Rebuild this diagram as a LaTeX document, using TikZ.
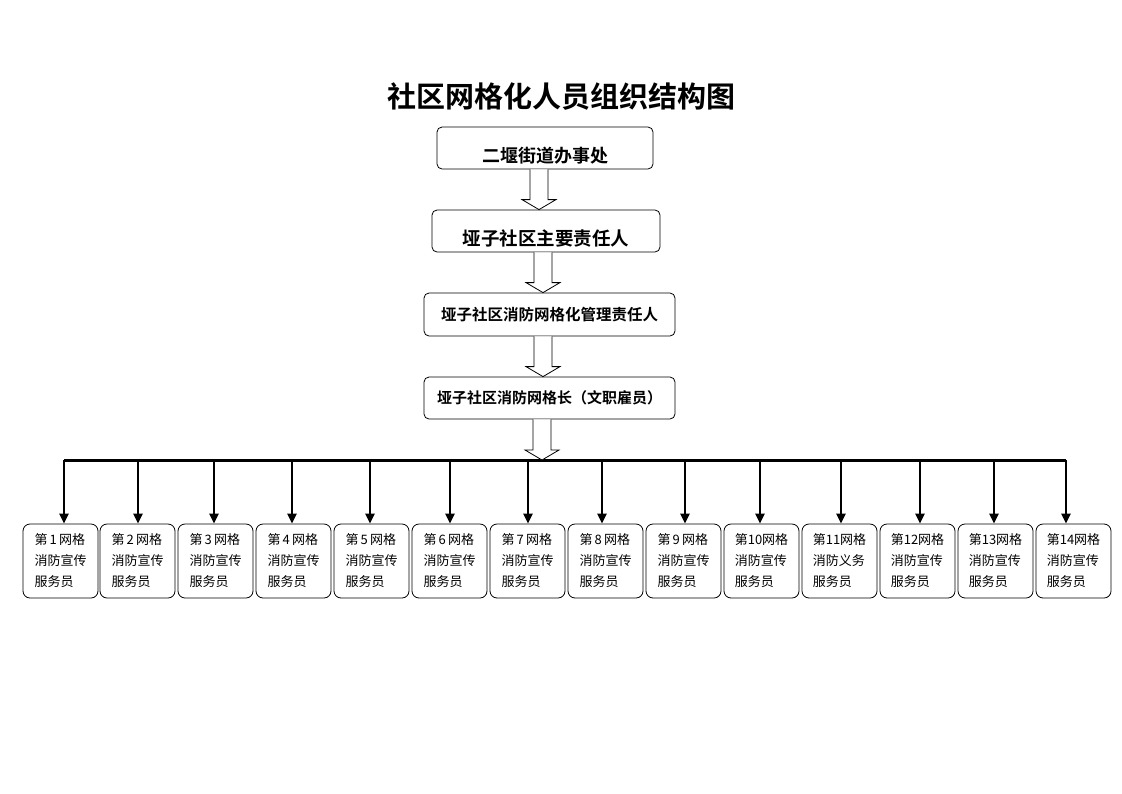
\documentclass[tikz,border=0pt]{standalone}
\usepackage{fontspec}
\setmainfont{Noto Sans CJK SC}
\newfontfamily\cjkb{Noto Sans CJK SC Bold}
\usetikzlibrary{calc,arrows.meta}
\tikzset{
  topbox/.style={draw, rounded corners=5pt, line width=0.8pt, inner sep=0pt, font=\cjkb},
  grid/.style={draw, rounded corners=7pt, line width=0.8pt, minimum width=75pt, minimum height=74pt,
    align=left, inner sep=0pt, font=\fontsize{13pt}{21pt}\selectfont},
  hollow/.style={draw, line width=0.8pt, fill=white, line join=miter},
  vline/.style={line width=2.6pt, -{Triangle[length=10pt,width=9pt]}},
}
\newcommand\harrow[3]{%
  \coordinate (hx) at (#1,0);
  \draw[hollow] ($(hx |- #2)+(-9,0)$) -- ($(hx |- #3)+(-9,-10)$) -- ($(hx |- #3)+(-17,-10)$) -- (hx |- #3)
    -- ($(hx |- #3)+(17,-10)$) -- ($(hx |- #3)+(9,-10)$) -- ($(hx |- #2)+(9,0)$);
}
\begin{document}
\begin{tikzpicture}[x=1pt,y=-1pt]
\useasboundingbox (0,0) rectangle (1122,793);
\node[font=\cjkb\fontsize{29pt}{32pt}\selectfont] (title) at (561,97) {社区网格化人员组织结构图};
\node[topbox, minimum width=216pt, minimum height=42pt, text height=28pt, text depth=0pt, font=\cjkb\fontsize{18pt}{20pt}\selectfont] (b1) at (545,148) {二堰街道办事处};
\node[topbox, minimum width=228pt, minimum height=42pt, text height=28pt, text depth=0pt, font=\cjkb\fontsize{18.5pt}{20pt}\selectfont] (b2) at (546,231) {垭子社区主要责任人};
\node[topbox, minimum width=251pt, minimum height=43pt, font=\cjkb\fontsize{15.5pt}{18pt}\selectfont] (b3) at (549.5,314.5) {垭子社区消防网格化管理责任人};
\node[topbox, minimum width=251pt, minimum height=42pt, font=\cjkb\fontsize{15pt}{18pt}\selectfont] (b4) at (549.5,398) {垭子社区消防网格长（文职雇员）};
\coordinate (bar) at (0,460);
\coordinate (barL) at (64,460);
\coordinate (barR) at (1066,460);
\harrow{539}{b1.south}{b2.north}
\harrow{543}{b2.south}{b3.north}
\harrow{543}{b3.south}{b4.north}
\draw[line width=3pt] (barL) -- (barR);
\harrow{542}{b4.south}{bar}
\foreach \i/\x/\ax/\n/\w in {1/60.5/64/第\,1\,网格/宣传,2/137.5/138/第\,2\,网格/宣传,3/215.5/214/第\,3\,网格/宣传,4/293.5/292/第\,4\,网格/宣传,5/371.5/370/第\,5\,网格/宣传,6/449.5/450/第\,6\,网格/宣传,7/527.5/528/第\,7\,网格/宣传,8/605.5/602/第\,8\,网格/宣传,9/683.5/685/第\,9\,网格/宣传,10/761.5/760/第10网格/宣传,11/839.5/841/第11网格/义务,12/917.5/920/第12网格/宣传,13/995.5/994/第13网格/宣传,14/1073.5/1066/第14网格/宣传}{
  \node[grid] (g\i) at (\x,561) {\n\\消防\w\\服务员};
  \coordinate (c\i) at (\ax,460);
  \draw[vline] (c\i) -- (c\i |- g\i.north);
}
\end{tikzpicture}
\end{document}
